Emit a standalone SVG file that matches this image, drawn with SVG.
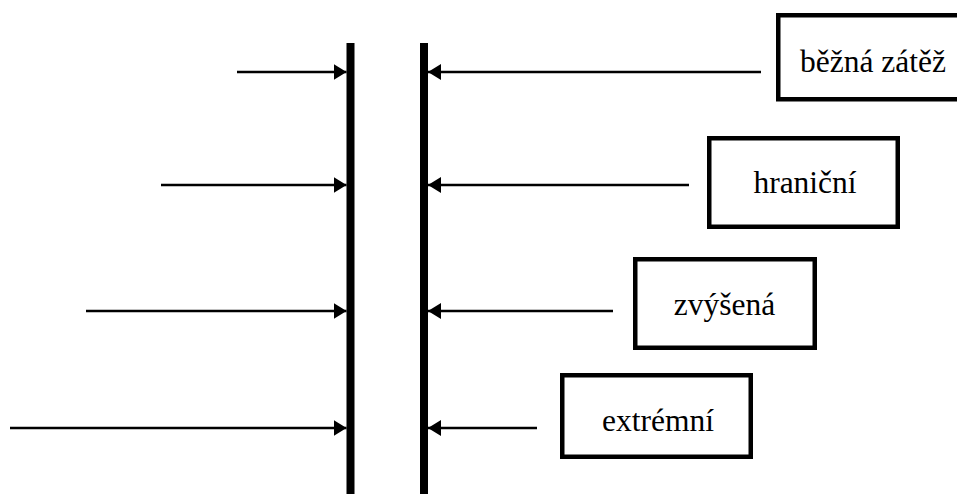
<svg xmlns="http://www.w3.org/2000/svg" width="957" height="494" viewBox="0 0 957 494">
  <defs>
    <style>
      .wall { fill: #000; }
      .conn { stroke: #000; stroke-width: 2.6; fill: none; }
      .box rect { fill: #fff; stroke: #000; stroke-width: 4.5; }
      .box text { font-size: 31.5px; fill: #000; text-anchor: middle; }
    </style>
    <marker id="head" viewBox="0 0 13 16" refX="13" refY="8" markerWidth="13" markerHeight="16" markerUnits="userSpaceOnUse" orient="auto">
      <path d="M0,0 L13,8 L0,16 Z" fill="#000"/>
    </marker>
  </defs>
  <rect width="957" height="494" fill="#fff"/>

  <!-- two walls -->
  <g id="wall-left"><rect class="wall" x="346.5" y="43" width="8" height="451"/></g>
  <g id="wall-right"><rect class="wall" x="420" y="43" width="8" height="451"/></g>

  <!-- load arrows -->
  <g id="connectors">
    <line class="conn" x1="237" y1="72" x2="346.5" y2="72" marker-end="url(#head)"/>
    <line class="conn" x1="761" y1="72" x2="428" y2="72" marker-end="url(#head)"/>
    <line class="conn" x1="161" y1="185" x2="346.5" y2="185" marker-end="url(#head)"/>
    <line class="conn" x1="689" y1="185" x2="428" y2="185" marker-end="url(#head)"/>
    <line class="conn" x1="86" y1="311" x2="346.5" y2="311" marker-end="url(#head)"/>
    <line class="conn" x1="613" y1="311" x2="428" y2="311" marker-end="url(#head)"/>
    <line class="conn" x1="10" y1="428" x2="346.5" y2="428" marker-end="url(#head)"/>
    <line class="conn" x1="537" y1="428" x2="428" y2="428" marker-end="url(#head)"/>
  </g>

  <!-- labels -->
  <g id="bezna" class="box" font-family="'Liberation Serif', 'Times New Roman', serif">
    <rect x="778.25" y="15.25" width="185" height="84"/>
    <text x="873" y="72">běžná zátěž</text>
  </g>
  <g id="hranicni" class="box" font-family="'Liberation Serif', 'Times New Roman', serif">
    <rect x="709.25" y="138.25" width="188.5" height="88.5"/>
    <text x="805" y="193">hraniční</text>
  </g>
  <g id="zvysena" class="box" font-family="'Liberation Serif', 'Times New Roman', serif">
    <rect x="635.25" y="259.25" width="179.5" height="88.5"/>
    <text x="724.5" y="315">zvýšená</text>
  </g>
  <g id="extremni" class="box" font-family="'Liberation Serif', 'Times New Roman', serif">
    <rect x="562.25" y="375.25" width="188.5" height="81.5"/>
    <text x="658" y="431">extrémní</text>
  </g>
</svg>
